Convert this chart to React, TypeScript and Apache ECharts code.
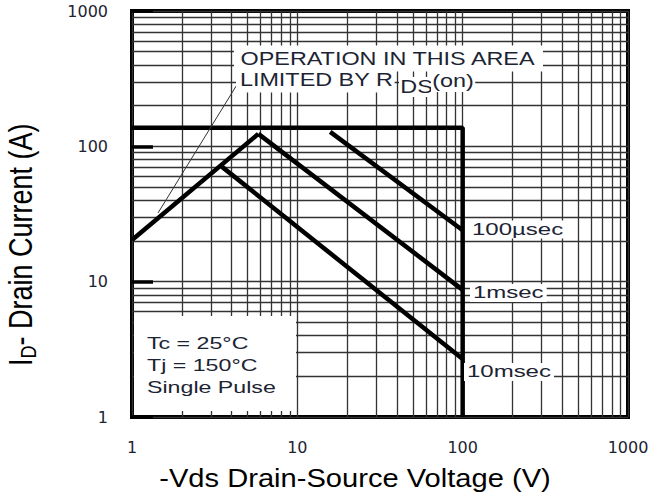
import React, { useEffect, useRef } from 'react';
import * as echarts from 'echarts';

// ---- data ----
const xTickLabels = ['1', '10', '100', '1000'];
const yTickLabels = ['1', '10', '100', '1000'];
const decades = [1, 10, 100];
const minorSteps = [2, 3, 4, 5, 6, 7, 8, 9];

const soaLimit = [[1, 137], [100, 137], [100, 1]];
const rdsLimit = [[1, 20.3], [5.81, 123.6]];
const pulse100us = [[15.8, 128], [100, 24]];
const pulse1ms = [[5.81, 123.6], [100, 8.7]];
const pulse10ms = [[3.49, 70.8], [100, 2.68]];
const leaderLine = [[4.38, 294], [1.437, 32.2]];

const minorValues: number[] = [];
decades.forEach((d) => minorSteps.forEach((m) => minorValues.push(d * m)));

const FONT = 'Liberation Sans, Arial, sans-serif';
const TXT = '#1c2433';
const GRID = '#333';

function labelFor(arr: string[]) {
  return (v: number) => {
    const i = Math.round(Math.log10(v));
    return arr[i] ?? '';
  };
}

function txt(text: string, x: number, y: number, size: number, sx: number, extra: any = {}) {
  return {
    type: 'text',
    x,
    y,
    scaleX: sx,
    z: 100,
    silent: true,
    style: {
      text,
      fontSize: size,
      fontFamily: FONT,
      fill: TXT,
      align: 'left',
      verticalAlign: 'middle',
      ...extra,
    },
  };
}

export default function App() {
  const ref = useRef<HTMLDivElement>(null);
  useEffect(() => {
    if (!ref.current) return;
    const chart = echarts.init(ref.current, undefined, { renderer: 'svg' });
    const thick = { color: '#000', width: 4.5 };
    const option: any = {
      animation: false,
      backgroundColor: '#fff',
      grid: {
        left: 132,
        right: 28,
        top: 11,
        bottom: 80,
        show: true,
        borderColor: '#000',
        borderWidth: 4,
        backgroundColor: 'transparent',
      },
      xAxis: {
        type: 'log',
        logBase: 10,
        min: 1,
        max: 1000,
        axisLine: { show: false },
        axisTick: { show: false },
        splitLine: { show: true, lineStyle: { color: GRID, width: 1.3 } },
        axisLabel: {
          margin: 22,
          fontFamily: 'DejaVu Sans',
          fontSize: 16,
          color: TXT,
          showMinLabel: true,
          showMaxLabel: true,
          formatter: labelFor(xTickLabels),
        },
      },
      yAxis: {
        type: 'log',
        logBase: 10,
        min: 1,
        max: 1000,
        axisLine: { show: false },
        axisTick: { show: true, inside: true, length: 21, lineStyle: { color: '#000', width: 3.5 } },
        splitLine: { show: true, lineStyle: { color: GRID, width: 1.3 } },
        axisLabel: {
          margin: 24,
          fontFamily: 'DejaVu Sans',
          fontSize: 16,
          color: TXT,
          showMinLabel: true,
          showMaxLabel: true,
          formatter: labelFor(yTickLabels),
        },
      },
      series: [
        {
          name: 'SOA limit',
          type: 'line',
          data: soaLimit,
          symbol: 'none',
          silent: true,
          z: 3,
          lineStyle: thick,
          markLine: {
            silent: true,
            symbol: ['none', 'none'],
            label: { show: false },
            lineStyle: { color: GRID, width: 1.3, type: 'solid' },
            emphasis: { disabled: true },
            z: 1,
            data: [
              ...minorValues.map((v) => ({ xAxis: v })),
              ...minorValues.map((v) => ({ yAxis: v })),
            ],
          },
        },
        { name: 'RDS(on)', type: 'line', data: rdsLimit, symbol: 'none', silent: true, z: 3, lineStyle: thick },
        { name: '100µsec', type: 'line', data: pulse100us, symbol: 'none', silent: true, z: 3, lineStyle: thick },
        { name: '1msec', type: 'line', data: pulse1ms, symbol: 'none', silent: true, z: 3, lineStyle: thick },
        { name: '10msec', type: 'line', data: pulse10ms, symbol: 'none', silent: true, z: 3, lineStyle: thick },
        {
          name: 'leader',
          type: 'line',
          data: leaderLine,
          symbol: 'none',
          silent: true,
          z: 3,
          lineStyle: { color: '#333', width: 1 },
        },
      ],
      graphic: [
        {
          type: 'rect',
          z: 99,
          silent: true,
          shape: { x: 134, y: 316, width: 162, height: 95 },
          style: { fill: '#fff' },
        },
        txt('Tc = 25°C', 147, 343, 16, 1.45),
        txt('Tj = 150°C', 147, 365, 16, 1.45),
        txt('Single Pulse', 147, 387, 16, 1.45),
        txt('OPERATION IN THIS AREA', 234, 58.5, 18, 1.3, { backgroundColor: '#fff', padding: [4, 5, 4, 5] }),
        txt('LIMITED BY R', 236, 80, 18, 1.3, { backgroundColor: '#fff', padding: [3, 1, 4, 3] }),
        txt('DS', 399, 87, 18, 1.3, { backgroundColor: '#fff', padding: [0, 1, 2, 1] }),
        txt('(on)', 431, 81, 18, 1.3, { backgroundColor: '#fff', padding: [2, 1, 2, 1] }),
        txt('100µsec', 469, 229.5, 16, 1.5, { backgroundColor: '#fff', padding: [1, 2, 1, 2] }),
        txt('1msec', 470, 293, 16, 1.5, { backgroundColor: '#fff', padding: [1, 2, 1, 2] }),
        txt('10msec', 464, 372, 16, 1.5, { backgroundColor: '#fff', padding: [1, 2, 1, 2] }),
        {
          type: 'text',
          x: 355,
          y: 478,
          scaleX: 1.12,
          z: 100,
          silent: true,
          style: {
            text: '-Vds Drain-Source Voltage (V)',
            fontSize: 26,
            fontFamily: FONT,
            fill: '#000',
            align: 'center',
            verticalAlign: 'middle',
          },
        },
        {
          type: 'group',
          x: 21,
          y: 245,
          rotation: Math.PI / 2,
          scaleY: 1.2,
          z: 100,
          silent: true,
          children: [
            {
              type: 'text',
              x: -121,
              y: 0,
              style: { text: 'I', fontSize: 27, fontFamily: FONT, fill: '#000', align: 'left', verticalAlign: 'middle' },
            },
            {
              type: 'text',
              x: -113.5,
              y: 6,
              style: { text: 'D', fontSize: 18, fontFamily: FONT, fill: '#000', align: 'left', verticalAlign: 'middle' },
            },
            {
              type: 'text',
              x: -100.5,
              y: 0,
              style: {
                text: '- Drain Current (A)',
                fontSize: 27,
                fontFamily: FONT,
                fill: '#000',
                align: 'left',
                verticalAlign: 'middle',
              },
            },
          ],
        },
      ],
    };
    chart.setOption(option);
    return () => chart.dispose();
  }, []);
  return (
    <div
      ref={ref}
      style={{ position: 'fixed', left: 0, top: 0, width: 656, height: 497, background: '#fff' }}
    />
  );
}
